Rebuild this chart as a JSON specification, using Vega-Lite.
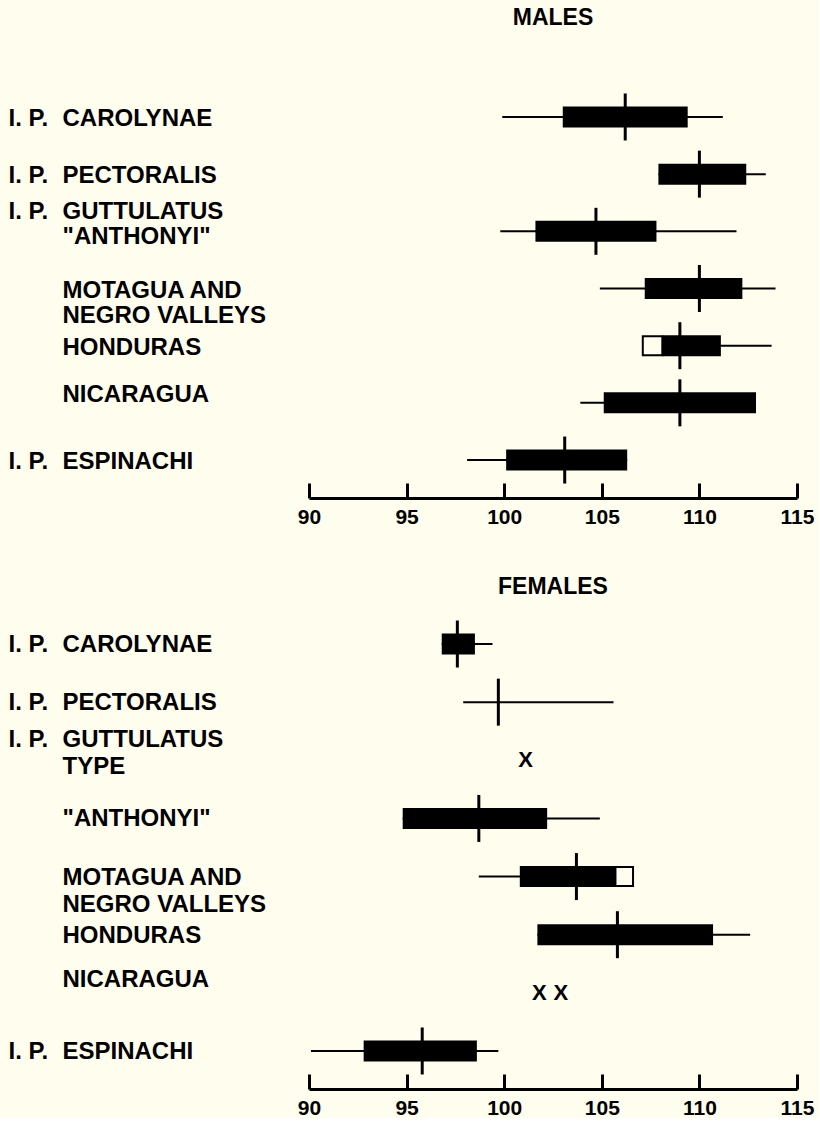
{
  "$schema": "https://vega.github.io/schema/vega-lite/v6.json",
  "background": "#fffdee",
  "padding": {"left": 8, "top": 7, "right": 5, "bottom": 0},
  "config": {
    "font": "Liberation Sans",
    "view": {"stroke": null},
    "axis": {"grid": false, "labelFont": "Liberation Sans", "labelFontWeight": "bold", "labelColor": "#000", "domainColor": "#000", "tickColor": "#000"},
    "axisX": {"domainWidth": 3, "tickWidth": 3, "tickSize": -15, "labelFontSize": 21, "labelPadding": 23, "labelFlush": false, "labelBaseline": "top", "labelOverlap": false},
    "title": {"font": "Liberation Sans", "fontWeight": "bold", "fontSize": 23, "color": "#000", "anchor": "middle"}
  },
  "datasets": {
    "males": [
      {"label": "I. P. CAROLYNAE", "min": 99.9, "max": 111.2, "lo": 103.0, "hi": 109.4, "mean": 106.2},
      {"label": "I. P. PECTORALIS", "min": 107.9, "max": 113.4, "lo": 107.9, "hi": 112.4, "mean": 110.0},
      {"label": "I. P. GUTTULATUS\n\"ANTHONYI\"", "min": 99.8, "max": 111.9, "lo": 101.6, "hi": 107.8, "mean": 104.7},
      {"label": "MOTAGUA AND\nNEGRO VALLEYS", "min": 104.9, "max": 113.9, "lo": 107.2, "hi": 112.2, "mean": 110.0},
      {"label": "HONDURAS", "min": 107.1, "max": 113.7, "lo": 108.1, "hi": 111.1, "wlo": 107.1, "whi": 108.1, "mean": 109.0},
      {"label": "NICARAGUA", "min": 103.9, "max": 112.9, "lo": 105.1, "hi": 112.9, "mean": 109.0},
      {"label": "I. P. ESPINACHI", "min": 98.1, "max": 106.3, "lo": 100.1, "hi": 106.3, "mean": 103.1}
    ],
    "females": [
      {"label": "I. P. CAROLYNAE", "min": 96.8, "max": 99.4, "lo": 96.8, "hi": 98.5, "mean": 97.6},
      {"label": "I. P. PECTORALIS", "min": 97.9, "max": 105.6, "mean": 99.7},
      {"label": "I. P. GUTTULATUS\nTYPE"},
      {"label": "\"ANTHONYI\"", "min": 94.8, "max": 104.9, "lo": 94.8, "hi": 102.2, "mean": 98.7},
      {"label": "MOTAGUA AND\nNEGRO VALLEYS", "min": 98.7, "max": 106.6, "lo": 100.8, "hi": 105.7, "wlo": 105.7, "whi": 106.6, "mean": 103.7},
      {"label": "HONDURAS", "min": 101.7, "max": 112.6, "lo": 101.7, "hi": 110.7, "mean": 105.8},
      {"label": "NICARAGUA"},
      {"label": "I. P. ESPINACHI", "min": 90.1, "max": 99.7, "lo": 92.8, "hi": 98.6, "mean": 95.8}
    ],
    "females_x": [
      {"label": "I. P. GUTTULATUS\nTYPE", "value": 101.1},
      {"label": "NICARAGUA", "value": 101.8},
      {"label": "NICARAGUA", "value": 102.9}
    ]
  },
  "spacing": 49,
  "vconcat": [
    {
      "title": {"text": "MALES", "offset": 49},
      "width": 488,
      "height": 419,
      "data": {"name": "males"},
      "resolve": {"axis": {"y": "independent"}},
      "layer": [
        {
          "mark": {"type": "rule", "strokeWidth": 2, "color": "#000"},
          "encoding": {
            "y": {"field": "label", "type": "nominal",
              "scale": {"domain": ["I. P. CAROLYNAE", "I. P. PECTORALIS", "I. P. GUTTULATUS\n\"ANTHONYI\"", "MOTAGUA AND\nNEGRO VALLEYS", "HONDURAS", "NICARAGUA", "I. P. ESPINACHI"], "paddingInner": 0, "paddingOuter": 0.164},
              "axis": {"orient": "left", "title": null, "domain": false, "ticks": false, "labelAlign": "left", "labelBaseline": "middle", "labelPadding": 247, "labelFontSize": 24, "labelLineHeight": 25, "labelLimit": 0,
                "labelOffset": {"condition": [{"test": "indexof(datum.value, 'GUTTULATUS') >= 0", "value": -19}, {"test": "datum.value === 'NICARAGUA'", "value": -8}], "value": 2},
                "labelExpr": "split(replace(datum.value, 'I. P. ', ''), '\\n')"}},
            "x": {"field": "min", "type": "quantitative",
              "scale": {"domain": [90, 115], "nice": false, "zero": false},
              "axis": {"values": [90, 95, 100, 105, 110, 115], "title": null}},
            "x2": {"field": "max"}
          }
        },
        {
          "mark": {"type": "bar", "color": "#000", "height": 21},
          "encoding": {
            "y": {"field": "label", "type": "nominal",
              "axis": {"orient": "left", "title": null, "domain": false, "ticks": false, "labelAlign": "left", "labelBaseline": "middle", "labelPadding": 301, "labelFontSize": 24, "labelLineHeight": 25, "labelLimit": 0,
                "labelOffset": {"condition": {"test": "indexof(datum.value, 'GUTTULATUS') >= 0", "value": -19}, "value": 2},
                "labelExpr": "indexof(datum.value, 'I. P. ') === 0 ? 'I. P.' : ''"}},
            "x": {"field": "lo", "type": "quantitative", "axis": {"title": null}},
            "x2": {"field": "hi"}
          }
        },
        {
          "mark": {"type": "bar", "fill": "#fffdee", "stroke": "#000", "strokeWidth": 2, "height": 19},
          "encoding": {
            "y": {"field": "label", "type": "nominal", "axis": null},
            "x": {"field": "wlo", "type": "quantitative", "axis": {"title": null}},
            "x2": {"field": "whi"}
          }
        },
        {
          "mark": {"type": "tick", "color": "#000", "opacity": 1, "size": 47, "thickness": 3},
          "encoding": {
            "y": {"field": "label", "type": "nominal", "axis": null},
            "x": {"field": "mean", "type": "quantitative", "axis": {"title": null}}
          }
        }
      ]
    },
    {
      "title": {"text": "FEMALES", "offset": 7},
      "width": 488,
      "height": 483,
      "data": {"name": "females"},
      "resolve": {"axis": {"y": "independent"}},
      "layer": [
        {
          "mark": {"type": "rule", "strokeWidth": 2, "color": "#000"},
          "encoding": {
            "y": {"field": "label", "type": "nominal",
              "scale": {"domain": ["I. P. CAROLYNAE", "I. P. PECTORALIS", "I. P. GUTTULATUS\nTYPE", "\"ANTHONYI\"", "MOTAGUA AND\nNEGRO VALLEYS", "HONDURAS", "NICARAGUA", "I. P. ESPINACHI"], "paddingInner": 0, "paddingOuter": 0.154},
              "axis": {"orient": "left", "title": null, "domain": false, "ticks": false, "labelAlign": "left", "labelBaseline": "middle", "labelPadding": 247, "labelFontSize": 24, "labelLineHeight": 27, "labelLimit": 0,
                "labelOffset": {"condition": [{"test": "indexof(datum.value, 'GUTTULATUS') >= 0", "value": -20}, {"test": "datum.value === 'NICARAGUA'", "value": -13}], "value": 1},
                "labelExpr": "split(replace(datum.value, 'I. P. ', ''), '\\n')"}},
            "x": {"field": "min", "type": "quantitative",
              "scale": {"domain": [90, 115], "nice": false, "zero": false},
              "axis": {"values": [90, 95, 100, 105, 110, 115], "title": null}},
            "x2": {"field": "max"}
          }
        },
        {
          "mark": {"type": "bar", "color": "#000", "height": 21},
          "encoding": {
            "y": {"field": "label", "type": "nominal",
              "axis": {"orient": "left", "title": null, "domain": false, "ticks": false, "labelAlign": "left", "labelBaseline": "middle", "labelPadding": 301, "labelFontSize": 24, "labelLineHeight": 27, "labelLimit": 0,
                "labelOffset": {"condition": {"test": "indexof(datum.value, 'GUTTULATUS') >= 0", "value": -20}, "value": 1},
                "labelExpr": "indexof(datum.value, 'I. P. ') === 0 ? 'I. P.' : ''"}},
            "x": {"field": "lo", "type": "quantitative", "axis": {"title": null}},
            "x2": {"field": "hi"}
          }
        },
        {
          "mark": {"type": "bar", "fill": "#fffdee", "stroke": "#000", "strokeWidth": 2, "height": 19},
          "encoding": {
            "y": {"field": "label", "type": "nominal", "axis": null},
            "x": {"field": "wlo", "type": "quantitative", "axis": {"title": null}},
            "x2": {"field": "whi"}
          }
        },
        {
          "mark": {"type": "tick", "color": "#000", "opacity": 1, "size": 47, "thickness": 3},
          "encoding": {
            "y": {"field": "label", "type": "nominal", "axis": null},
            "x": {"field": "mean", "type": "quantitative", "axis": {"title": null}}
          }
        },
        {
          "data": {"name": "females_x"},
          "mark": {"type": "text", "text": "X", "fontSize": 22, "fontWeight": "bold", "color": "#000", "baseline": "middle"},
          "encoding": {
            "y": {"field": "label", "type": "nominal", "axis": null},
            "x": {"field": "value", "type": "quantitative", "axis": {"title": null}}
          }
        }
      ]
    }
  ]
}
